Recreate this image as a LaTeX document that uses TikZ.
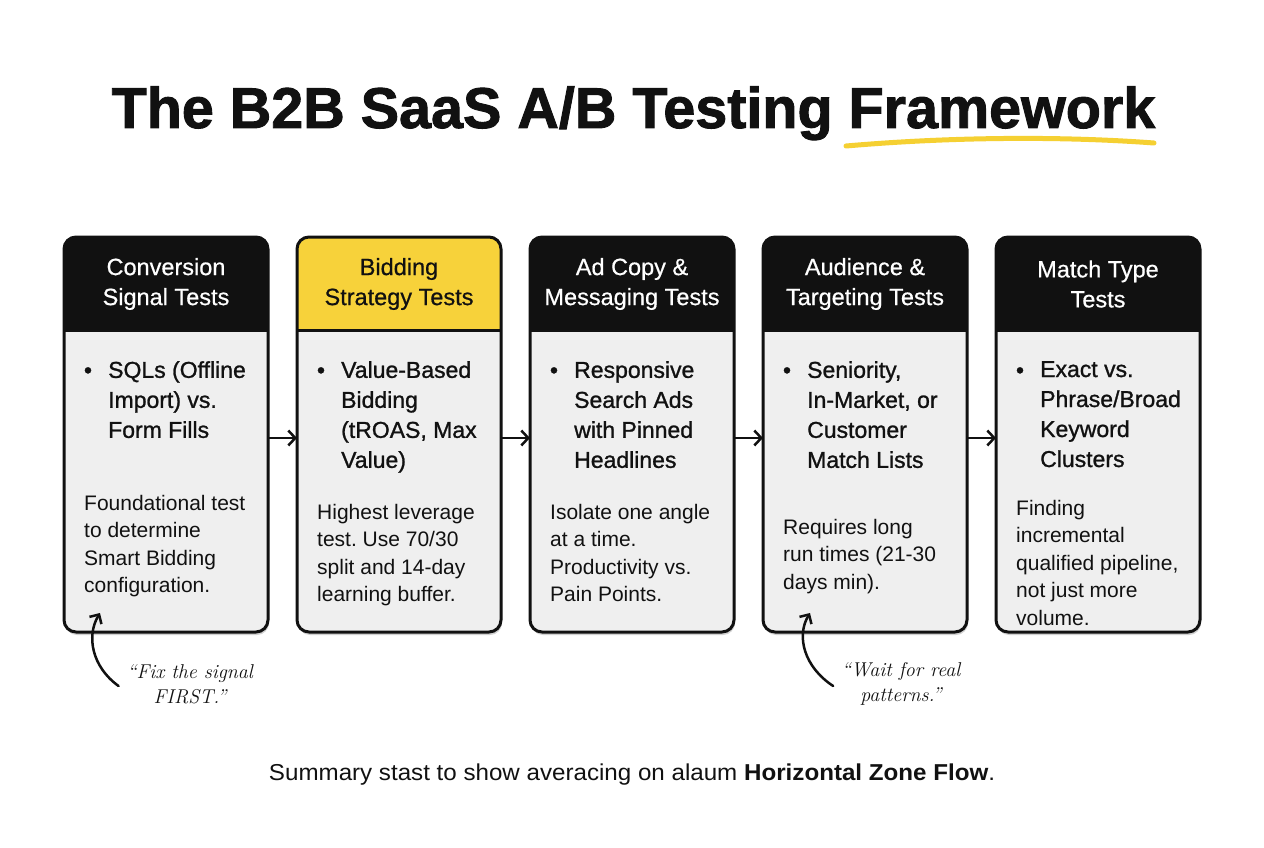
\documentclass[tikz,border=0pt]{standalone}
\usepackage{fontspec}
\newfontfamily\uifont{Liberation Sans}
\newfontfamily\headfont[FakeBold=0.6]{Liberation Sans}
\newfontfamily\itemfont[FakeBold=1.1]{Liberation Sans}
\newfontfamily\titlefont[BoldFeatures={FakeBold=1.6}]{Liberation Sans}
\usepackage{tikz}
\usetikzlibrary{arrows.meta,positioning,calc,shadows}
\usepackage{xcolor}
\definecolor{ink}{RGB}{17,17,17}
\definecolor{soft}{RGB}{239,239,239}
\definecolor{gold}{RGB}{247,210,58}
\definecolor{goldline}{RGB}{245,208,50}
\frenchspacing
\tikzset{
  card/.style={fill=soft,rounded corners=12pt,minimum width=204pt,minimum height=395pt,
    inner sep=0pt,outer sep=0pt,drop shadow={shadow xshift=1pt,shadow yshift=-3pt,opacity=.18,fill=black}},
  frame/.style={draw=ink,line width=3pt,rounded corners=12pt},
  headtxt/.style={font=\headfont\fontsize{23.5}{30}\selectfont,align=center,inner sep=0pt},
  itemtxt/.style={font=\itemfont\fontsize{23}{30}\selectfont,text=ink,align=left,inner sep=0pt,anchor=north west},
  desctxt/.style={font=\uifont\fontsize{21}{27.5}\selectfont,text=ink,align=left,inner sep=0pt,anchor=north west},
  flow/.style={-{Straight Barb[length=7pt,width=15pt]},line width=2.5pt,ink},
  note/.style={font=\rmfamily\itshape\fontsize{20}{25}\selectfont,align=center,text=ink},
  notearr/.style={-{Straight Barb[length=7pt,width=14pt]},line width=2.5pt,ink,line cap=round},
}
% one test card: name, left x, head fill, head text, head, item, note offset, note
\newcommand\testcard[8]{%
  \node[card] (#1) at (#2+102,434.5) {};
  \begin{scope}
    \clip[rounded corners=12pt] (#1.north west) rectangle (#1.south east);
    \fill[#3] (#1.north west) rectangle ([yshift=-93pt]#1.north east);
  \end{scope}
  \draw[ink,line width=3pt] ([yshift=-93pt]#1.north west) -- ([yshift=-93pt]#1.north east);
  \draw[frame] (#1.north west) rectangle (#1.south east);
  \node[headtxt,text=#4] (#1-head) at ([yshift=-47pt]#1.north) {#5};
  \node[font=\itemfont\fontsize{23}{30}\selectfont,text=ink,inner sep=0pt,anchor=base]
    (#1-dot) at ([xshift=24pt,yshift=-141pt]#1.north west) {•};
  \node[itemtxt] (#1-item) at ([xshift=44pt,yshift=-124pt]#1.north west) {#6};
  \node[desctxt] (#1-note) at ([xshift=20pt,yshift=-#7pt]#1.north west) {#8};
}
\begin{document}
\begin{tikzpicture}[x=1pt,y=-1pt]
  \useasboundingbox[fill=white] (0,0) rectangle (1264,848);
  % title
  \node[font=\titlefont\bfseries\fontsize{57.5}{60}\selectfont,text=ink,anchor=base,inner sep=0pt]
    (title) at (633.5,128) {The B2B SaaS A/B Testing Framework};
  \draw[goldline,line width=5pt,line cap=round] (846,146) .. controls (950,137) and (1060,136) .. (1154,143);
  % cards
  \testcard{signal}{64}{ink}{white}{Conversion\\Signal Tests}
    {SQLs (Offline\\Import) vs.\\Form Fills}{258}
    {Foundational test\\to determine\\Smart Bidding\\configuration.}
  \testcard{bidding}{297}{gold}{ink}{Bidding\\Strategy Tests}
    {Value-Based\\Bidding\\(tROAS, Max\\Value)}{267}
    {Highest leverage\\test. Use 70/30\\split and 14-day\\learning buffer.}
  \testcard{adcopy}{530}{ink}{white}{Ad Copy \&\\Messaging Tests}
    {Responsive\\Search Ads\\with Pinned\\Headlines}{267}
    {Isolate one angle\\at a time.\\Productivity vs.\\Pain Points.}
  \testcard{audience}{763}{ink}{white}{Audience \&\\Targeting Tests}
    {Seniority,\\In-Market, or\\Customer\\Match Lists}{282}
    {Requires long\\run times (21-30\\days min).}
  \testcard{match}{996}{ink}{white}{Match Type\\Tests}
    {Exact vs.\\Phrase/Broad\\Keyword\\Clusters}{263}
    {Finding\\incremental\\qualified pipeline,\\not just more\\volume.}
  % flow arrows
  \draw[flow] ([yshift=-3.5pt]signal.east) -- ([yshift=-3.5pt]bidding.west);
  \draw[flow] ([yshift=-3.5pt]bidding.east) -- ([yshift=-3.5pt]adcopy.west);
  \draw[flow] ([yshift=-3.5pt]adcopy.east) -- ([yshift=-3.5pt]audience.west);
  \draw[flow] ([yshift=-3.5pt]audience.east) -- ([yshift=-3.5pt]match.west);
  % hand notes
  \node[note] (fixnote) at (190,684) {“Fix the signal\\FIRST.”};
  \coordinate (fixtip) at (100,613);
  \draw[notearr] ([xshift=-5pt,yshift=-2pt]fixnote.west) .. controls (92,667) and (86,636) .. (fixtip);
  \node[note] (waitnote) at (901,684) {“Wait for real\\patterns.”};
  \coordinate (waittip) at (810,613);
  \draw[notearr] ([xshift=-5pt,yshift=-2pt]waitnote.west) .. controls (804,667) and (796,636) .. (waittip);
  % summary
  \node[font=\uifont\fontsize{23}{26}\selectfont,text=ink,anchor=base,inner sep=0pt,xscale=1.05,transform shape]
    (summary) at (632,780) {Summary stast to show averacing on alaum \textbf{Horizontal Zone Flow}.};
\end{tikzpicture}
\end{document}
